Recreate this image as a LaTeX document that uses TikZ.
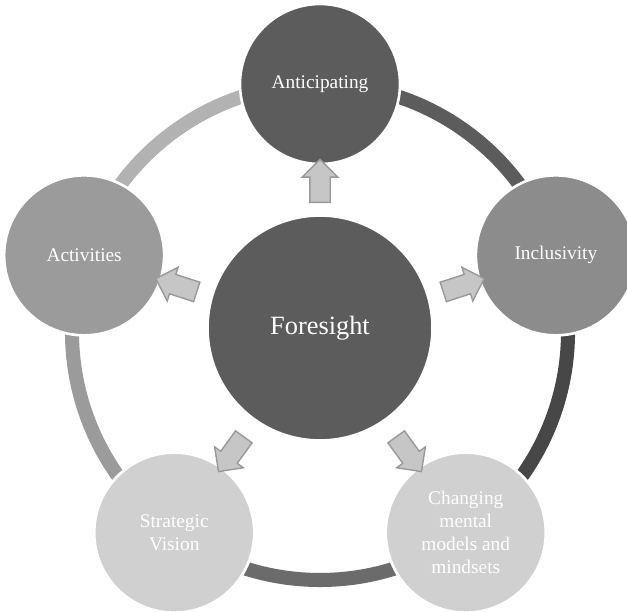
\documentclass[tikz,border=0pt]{standalone}
\usepackage{fontspec}
\setmainfont{Liberation Serif}
\usetikzlibrary{shapes.arrows}
\definecolor{darkA}{HTML}{5C5C5C}
\definecolor{midI}{HTML}{8C8C8C}
\definecolor{midB}{HTML}{9B9B9B}
\definecolor{lightC}{HTML}{D0D0D0}
\begin{document}
\begin{tikzpicture}[
    outer/.style={circle, draw=white, line width=1.5pt, minimum size=3.2cm, text=white, align=center, font=\fontsize{11}{13}\selectfont},
    hub/.style={circle, draw=white, line width=1.5pt, fill=darkA, minimum size=4.5cm, text=white, font=\fontsize{15}{17}\selectfont},
    ring/.style={line width=8pt},
    blockarrow/.style={single arrow, draw=gray!80, fill=gray!45, line width=0.8pt, minimum height=0.86cm, minimum width=0.7cm, single arrow head extend=0.15cm, inner xsep=0pt, inner ysep=0.19cm}
]
    \useasboundingbox (-6.4,6.64) rectangle (6.14,-5.58);

    % ring between the five circles
    \draw[ring, color=gray!60] (90:4.96) arc (90:162:4.96);
    \draw[ring, color=darkA] (90:4.96) arc (90:18:4.96);
    \draw[ring, color=black!72] (18:4.96) arc (18:-54:4.96);
    \draw[ring, color=black!58] (-54:4.96) arc (-54:-126:4.96);
    \draw[ring, color=midB] (-126:4.96) arc (-126:-198:4.96);

    % outer circles
    \node[outer, fill=darkA] (ant) at (90:4.96) {Anticipating};
    \node[outer, fill=midI] (inc) at (18:4.96) {Inclusivity};
    \node[outer, fill=midB] (act) at (162:4.96) {Activities};
    \node[outer, fill=lightC] (strat) at (234:4.96) {Strategic\\Vision};
    \node[outer, fill=lightC] (mind) at (306:4.96) {Changing\\mental\\models and\\mindsets};

    % centre
    \node[hub] (fs) at (0.0,0.08) {Foresight};

    % arrows out of the centre
    \node[blockarrow, rotate=90] (a1) at (90:2.92) {};
    \node[blockarrow, rotate=18] (a2) at (18:2.92) {};
    \node[blockarrow, rotate=162] (a3) at (162:2.92) {};
    \node[blockarrow, rotate=234] (a4) at (234:2.92) {};
    \node[blockarrow, rotate=306] (a5) at (306:2.92) {};
\end{tikzpicture}
\end{document}
